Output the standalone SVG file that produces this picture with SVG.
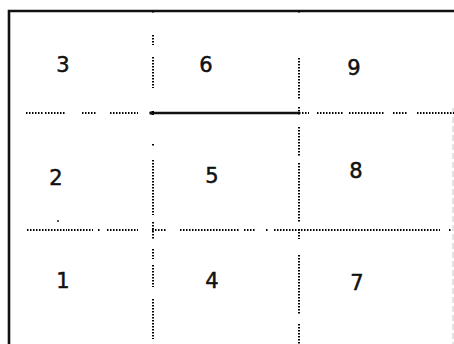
<svg xmlns="http://www.w3.org/2000/svg" width="454" height="344" viewBox="0 0 454 344">
<style>
.bd{stroke:#111;stroke-width:2.6;fill:none}
.dt{stroke:#000;stroke-width:2;stroke-dasharray:1.5 1.5;fill:none}
.lbl{font-family:"DejaVu Sans","Verdana",sans-serif;font-size:21px;font-weight:500;fill:#111;text-anchor:middle;stroke:#111;stroke-width:0.5}
</style>
<rect width="454" height="344" fill="#fff"/>
<g id="grid">
<path class="bd" d="M9,344 V11 H454"/>
<path d="M453,108 V344" stroke="#c8c8c8" stroke-width="1" stroke-dasharray="6 3"/>
<path class="bd" d="M151,113 H299"/>
<circle cx="151" cy="113" r="1.8" fill="#111"/>
<path class="dt" d="M26,113 H43 M45,113 H65 M82,113 H97 M110,113 H138 M299,113 H309 M317,113 H344 M349,113 H384 M393,113 H407 M417,113 H454"/>
<path class="dt" d="M27,230 H67 M68,230 H93 M98,230 H100 M107,230 H138 M152,230 H167 M180,230 H240 M244,230 H255 M266,230 H268 M274,230 H440 M449,230 H452"/>
<path class="dt" d="M153,11 V14 M153,35 V45 M153,57 V88 M153,111 V115 M153,144 V146 M153,160 V215 M153,222 V239 M153,249 V259 M153,265 V287 M153,299 V339"/>
<path class="dt" d="M299,11 V14 M299,58 V100 M299,107 V115 M299,127 V157 M299,163 V222 M299,229 V239 M299,255 V315 M299,324 V344"/>
<circle cx="58" cy="221" r="1" fill="#222"/>
</g>
<g id="cell-3"><text class="lbl" x="63" y="72">3</text></g>
<g id="cell-6"><text class="lbl" x="206" y="72">6</text></g>
<g id="cell-9"><text class="lbl" x="354" y="75">9</text></g>
<g id="cell-2"><text class="lbl" x="56" y="185">2</text></g>
<g id="cell-5"><text class="lbl" x="212" y="183">5</text></g>
<g id="cell-8"><text class="lbl" x="356" y="178">8</text></g>
<g id="cell-1"><text class="lbl" x="63" y="288">1</text></g>
<g id="cell-4"><text class="lbl" x="212" y="288">4</text></g>
<g id="cell-7"><text class="lbl" x="357" y="290" font-weight="bold">7</text></g>
</svg>
